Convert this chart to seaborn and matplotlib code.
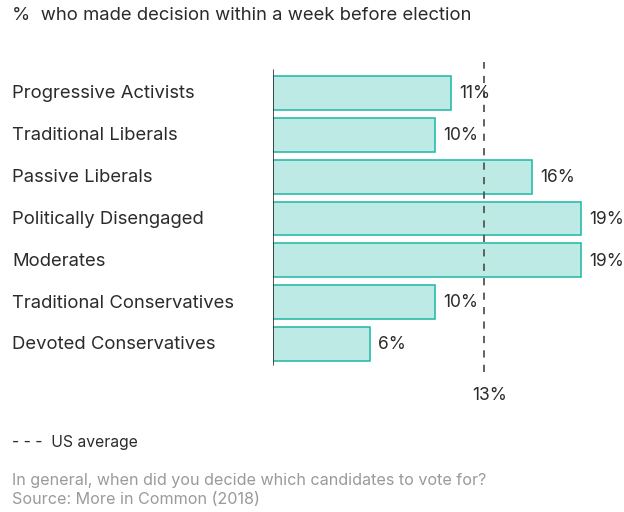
import matplotlib
matplotlib.use("Agg")
import matplotlib.pyplot as plt
import seaborn as sns
import pandas as pd

categories = ["Progressive Activists", "Traditional Liberals", "Passive Liberals",
              "Politically Disengaged", "Moderates", "Traditional Conservatives",
              "Devoted Conservatives"]
values = [11, 10, 16, 19, 19, 10, 6]
us_average = 13
title = "%  who made decision within a week before election"
legend_text = "US average"
note_lines = ["In general, when did you decide which candidates to vote for?",
              "Source: More in Common (2018)"]

sns.set_theme(style="white")
plt.rcParams['font.family'] = ['Inter', 'DejaVu Sans']

fig = plt.figure(figsize=(6.24, 5.12), dpi=100)
W, H = 624, 512
ax = fig.add_axes([273 / W, 1 - 372 / H, (W - 273) / W, 310 / H])

df = pd.DataFrame({"cat": categories, "val": values})
sns.barplot(data=df, y="cat", x="val", orient="h", ax=ax, color="#bdeae4",
            edgecolor="#2bbcab", linewidth=1.2, width=0.81, saturation=1)

ax.set_xlim(0, (W - 273) / 16.2)
ax.set_ylim(6.67, -0.74)
for s in ax.spines.values():
    s.set_visible(False)
ax.set_xticks([])
ax.set_yticks([])
ax.set_xlabel("")
ax.set_ylabel("")

ax.axvline(0, ymin=(372 - 365) / 310, ymax=(372 - 70) / 310, color="#333333", lw=1.2)
ax.axvline(us_average, color="#555555", lw=1.3, ls=(0, (4, 4)))

text_col = "#2b2b2b"
fs = 12.5
fs_lab = 13.3
for i, (c, v) in enumerate(zip(categories, values)):
    ax.text(v + 0.5, i + 0.02, f"{v}%", va="center", ha="left", fontsize=fs, color=text_col)
    fig.text(12 / W, 1 - (94 + i * 41.83) / H, c, va="center", ha="left",
             fontsize=fs_lab, color=text_col)

fig.text((us_average * 16.2 + 273) / W + 0.01, 1 - 396 / H, f"{us_average}%", ha="center",
         va="center", fontsize=fs, color=text_col)

fig.text(12 / W, 1 - 16 / H, title, ha="left", va="center", fontsize=fs_lab, color=text_col)
fig.text(12 / W, 1 - 442 / H, "- - -  " + legend_text, ha="left", va="center",
         fontsize=11.3, color=text_col)
fig.text(12 / W, 1 - 480 / H, note_lines[0], ha="left", va="center", fontsize=11.6, color="#9a9a9a")
fig.text(12 / W, 1 - 500 / H, note_lines[1], ha="left", va="center", fontsize=11.6, color="#9a9a9a")

fig.savefig("out.png", dpi=100)
